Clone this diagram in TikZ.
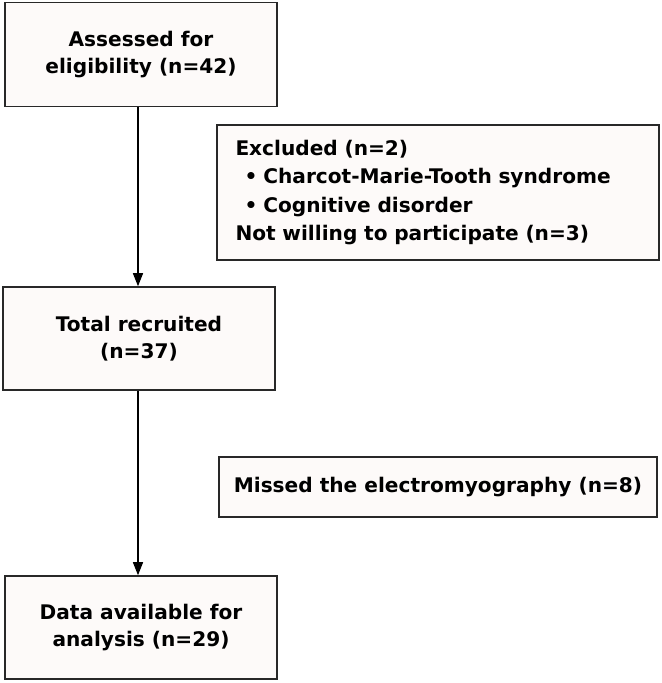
\documentclass[tikz,border=0pt]{standalone}
\usepackage{fontspec}
\setmainfont{DejaVu Sans}
\usetikzlibrary{arrows.meta}
\definecolor{boxfill}{RGB}{253,250,249}
\definecolor{boxline}{RGB}{40,40,40}
\begin{document}
\begin{tikzpicture}[x=1bp,y=-1bp,
  box/.style={draw=boxline,line width=1.6bp,fill=boxfill,inner sep=0pt,
    font=\bfseries\fontsize{20.2}{27}\selectfont,align=center},
  conn/.style={draw=black,line width=1.3bp,-{Stealth[length=13bp,width=10bp,inset=0pt]}}]
\useasboundingbox (0,0) rectangle (662,683);
\node[box,minimum width=272bp,minimum height=104bp] (b1) at (141,54.5) {Assessed for\\eligibility (n=42)};
\node[box,minimum width=272bp,minimum height=103bp] (b2) at (139,338.5) {Total recruited\\(n=37)};
\node[box,minimum width=272bp,minimum height=103bp] (b3) at (141,627.5) {Data available for\\analysis (n=29)};
\node[box,minimum width=442bp,minimum height=135bp,align=left,text width=405bp,
  font=\bfseries\fontsize{20.2}{28.2}\selectfont] (ex) at (438,192.5)
  {Excluded (n=2)\\
   \hspace*{9bp}\textbullet\hspace{6bp}Charcot-Marie-Tooth syndrome\\
   \hspace*{9bp}\textbullet\hspace{6bp}Cognitive disorder\\
   Not willing to participate (n=3)};
\node[box,minimum width=438bp,minimum height=60bp] (ms) at (438,487) {Missed the electromyography (n=8)};
\coordinate (sp) at (138,0);
\draw[conn] (b1.south -| sp) -- (b2.north -| sp);
\draw[conn] (b2.south -| sp) -- (b3.north -| sp);
\end{tikzpicture}
\end{document}
